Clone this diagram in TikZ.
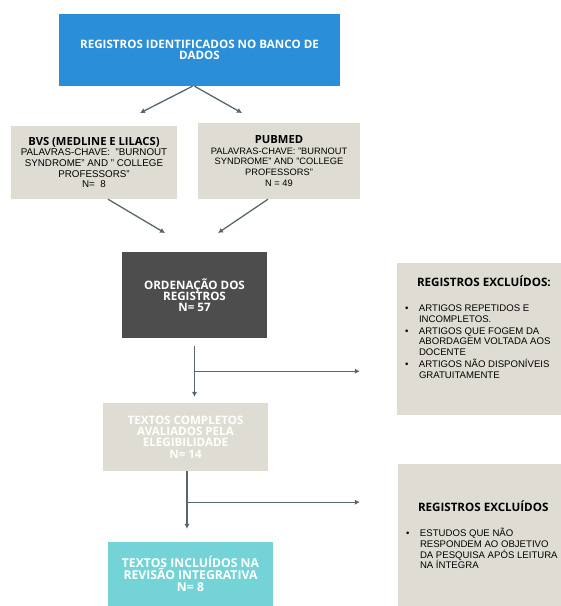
\documentclass[tikz,border=0pt]{standalone}
\usepackage{fontspec}
\setmainfont{Liberation Sans}
\newfontfamily\headfont{Open Sans}
\usepackage{xcolor}
\usepackage{tikz}
\usetikzlibrary{arrows.meta,positioning}

\definecolor{azul}{HTML}{2B8ED8}
\definecolor{bege}{HTML}{DFDDD3}
\definecolor{escuro}{HTML}{4D4D4D}
\definecolor{turquesa}{HTML}{74D3D6}
\definecolor{seta}{HTML}{58676F}

\newcommand{\hd}[1]{{\headfont\bfseries\fontsize{11.2}{11}\selectfont #1}}
\newcommand{\bul}{\makebox[22pt][l]{\hspace{8pt}\textbullet}}

\begin{document}
\begin{tikzpicture}[x=1pt, y=-1pt,
  box/.style={inner sep=0pt, align=center},
  titulo/.style={box, text=white, font=\headfont\bfseries\fontsize{11.6}{11.2}\selectfont},
  base/.style={box, fill=bege, font=\fontsize{9.3}{10.6}\selectfont},
  arr/.style={-{Latex[length=5pt,width=5.5pt]}, line width=1.3pt, draw=seta}
]
\useasboundingbox (0,0) rectangle (561,606);

\node[titulo, fill=azul, minimum width=281pt, minimum height=72pt] (banco) at (199.5,50) {REGISTROS IDENTIFICADOS NO BANCO DE\\DADOS};
\node[base, minimum width=166pt, minimum height=73pt, font=\fontsize{9.8}{10.7}\selectfont] (bvs) at (94,162.5) {\hd{BVS (MEDLINE E LILACS)}\\PALAVRAS-CHAVE:\ \ "BURNOUT\\SYNDROME" AND " COLLEGE\\PROFESSORS"\\N=\ \ 8};
\node[base, minimum width=162pt, minimum height=76pt] (pubmed) at (279,161) {\hd{PUBMED}\\PALAVRAS-CHAVE: "BURNOUT\\SYNDROME" AND "COLLEGE\\PROFESSORS"\\N = 49};

\coordinate (pbvs) at (140,113);
\coordinate (ppub) at (242,113);
\draw[arr] ([xshift=-7pt]banco.south) -- (pbvs);
\draw[arr] ([xshift=-5pt]banco.south) -- (ppub);

\node[titulo, fill=escuro, minimum width=145pt, minimum height=86pt] (ordenacao) at (194.5,295) {ORDENAÇÃO DOS\\REGISTROS\\N= 57};
\coordinate (pord1) at (165,233);
\coordinate (pord2) at (218,233);
\draw[arr] ([xshift=14pt]bvs.south) -- (pord1);
\draw[arr] ([xshift=-11pt]pubmed.south) -- (pord2);

\node[box, fill=bege] (excl1) at (479,339) {\parbox[c][152pt][t]{164pt}{\raggedright
  \fontsize{9.6}{10.7}\selectfont
  \vspace*{13pt}
  \hspace*{20pt}\hd{\fontsize{11.6}{11}\selectfont REGISTROS EXCLUÍDOS:}\par
  \vspace{14pt}
  \bul ARTIGOS REPETIDOS E\\\hspace*{22pt}INCOMPLETOS.\par\vspace{1.3pt}
  \bul ARTIGOS QUE FOGEM DA\\\hspace*{22pt}ABORDAGEM VOLTADA AOS\\\hspace*{22pt}DOCENTE\par\vspace{1.3pt}
  \bul ARTIGOS NÃO DISPONÍVEIS\\\hspace*{22pt}GRATUITAMENTE\par}};

\node[titulo, fill=bege, minimum width=165pt, minimum height=68pt] (completos) at (185.5,437) {TEXTOS COMPLETOS\\AVALIADOS PELA\\ELEGIBILIDADE\\N= 14};

\draw[arr, shorten <=8pt, shorten >=6pt] (ordenacao.south) -- (ordenacao.south |- completos.north);
\coordinate (j1) at ([yshift=-33pt]ordenacao.south);
\draw[arr] (j1) -- ([xshift=-37pt]j1 -| excl1.west);

\node[box, fill=bege] (excl2) at (479.5,535) {\parbox[c][142pt][t]{163pt}{\raggedright
  \fontsize{9.6}{10.6}\selectfont
  \vspace*{37pt}
  \hspace*{20pt}\hd{\fontsize{11.6}{11}\selectfont REGISTROS EXCLUÍDOS}\par
  \vspace{14.5pt}
  \bul ESTUDOS QUE NÃO\\\hspace*{22pt}RESPONDEM AO OBJETIVO\\\hspace*{22pt}DA PESQUISA APÓS LEITURA\\\hspace*{22pt}NA ÍNTEGRA\par}};

\node[titulo, fill=turquesa, minimum width=165pt, minimum height=64pt, font=\headfont\bfseries\fontsize{12.2}{11.8}\selectfont] (incluidos) at (190.5,574) {TEXTOS INCLUÍDOS NA\\REVISÃO INTEGRATIVA\\N= 8};

\draw[arr, shorten >=13pt] ([xshift=1.5pt]completos.south) -- ([xshift=1.5pt]completos.south |- incluidos.north);
\coordinate (j2) at ([xshift=1.5pt, yshift=-31pt]completos.south);
\draw[arr] (j2) -- ([xshift=-38pt]j2 -| excl2.west);
\end{tikzpicture}
\end{document}
